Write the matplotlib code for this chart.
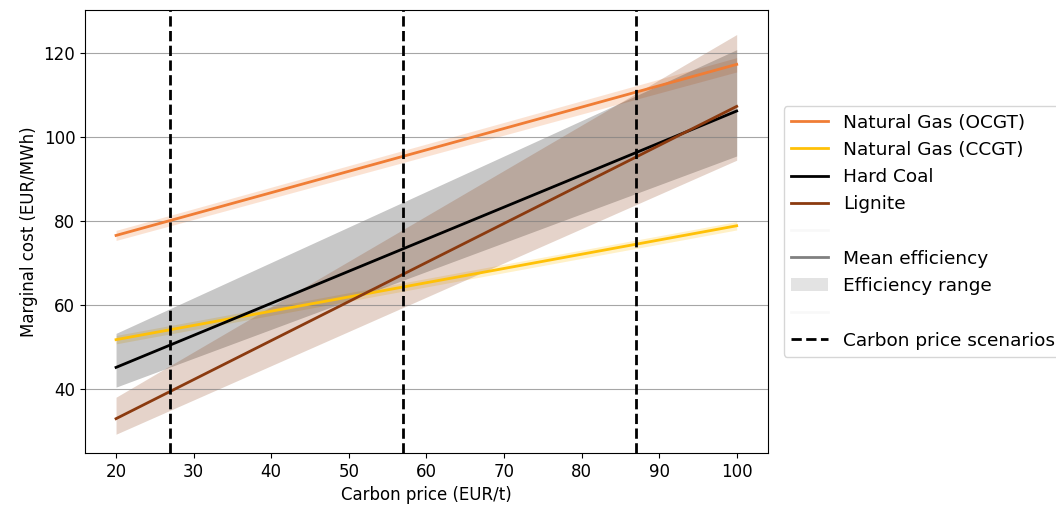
import matplotlib
matplotlib.use('Agg')
import matplotlib.pyplot as plt
from matplotlib.lines import Line2D
from matplotlib.patches import Patch

carbon_price = [20, 100]
scenarios = [27, 57, 87]

techs = ['Natural Gas (OCGT)', 'Natural Gas (CCGT)', 'Hard Coal', 'Lignite']
colors = ['#f07d35', '#ffc107', '#000000', '#8b3a0f']
mean_cost = [[76.6, 117.3], [51.8, 78.9], [45.2, 106.2], [33.0, 107.3]]
low_cost = [[75.4, 115.5], [50.8, 77.9], [40.5, 95.5], [29.3, 94.5]]
high_cost = [[77.8, 118.9], [52.8, 79.9], [53.3, 120.8], [38.1, 124.4]]

plt.rcParams['font.size'] = 12
fig = plt.figure(figsize=(10.56, 5.08), dpi=100)
ax = fig.add_axes([0.0805, 0.108, 0.6465, 0.872])

for name, c, m, lo, hi in zip(techs, colors, mean_cost, low_cost, high_cost):
    ax.fill_between(carbon_price, lo, hi, color=c, alpha=0.22, linewidth=0)
    ax.plot(carbon_price, m, color=c, lw=2, label=name)

for s in scenarios:
    ax.axvline(s, color='black', ls='--', lw=2)

ax.set_xlim(16, 104)
ax.set_ylim(24.8, 130.2)
ax.grid(True, axis='y', color='gray', alpha=0.7)
ax.set_xlabel('Carbon price (EUR/t)')
ax.set_ylabel('Marginal cost (EUR/MWh)')

handles, labels = ax.get_legend_handles_labels()
handles += [Line2D([], [], color='gray', lw=2, alpha=0.05),
            Line2D([], [], color='gray', lw=2),
            Patch(facecolor='gray', alpha=0.22),
            Line2D([], [], color='gray', lw=2, alpha=0.05),
            Line2D([], [], color='black', ls='--', lw=2)]
labels += ['', 'Mean efficiency', 'Efficiency range', '', 'Carbon price scenarios']
ax.legend(handles, labels, loc='center left', bbox_to_anchor=(1.01, 0.5), fontsize=13.3)

plt.savefig('out.png', dpi=100)
plt.close()
